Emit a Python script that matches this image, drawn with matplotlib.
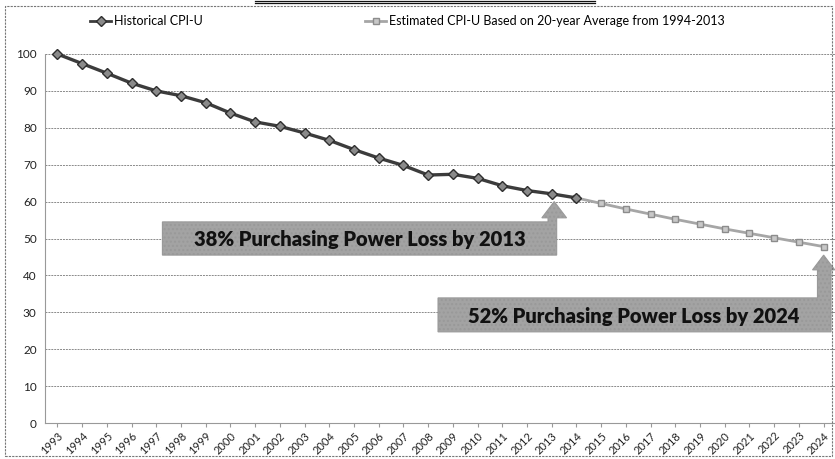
import matplotlib.pyplot as plt
from matplotlib.patches import Polygon, Rectangle
from matplotlib.lines import Line2D

plt.rcParams["font.family"] = ["Lato", "DejaVu Sans"]

years = [str(y) for y in range(1993, 2025)]
historical = [100.0, 97.4, 94.8, 92.1, 90.0, 88.7, 86.8, 84.0, 81.6, 80.4,
              78.6, 76.6, 74.1, 71.8, 69.8, 67.2, 67.4, 66.3, 64.3, 63.0,
              62.1, 61.0]
estimated = [61.0, 59.5, 58.0, 56.6, 55.2, 53.9, 52.6, 51.4, 50.2, 49.0, 47.8]
est_start = 21  # 2014

label_hist = "Historical CPI-U"
label_est = "Estimated CPI-U Based on 20-year Average from 1994-2013"
note_2013 = "38% Purchasing Power Loss by 2013"
note_2024 = "52% Purchasing Power Loss by 2024"

W, H = 835, 459
fig = plt.figure(figsize=(W / 100, H / 100), dpi=100)
ax = fig.add_axes([45 / W, (H - 423) / H, 791 / W, 369 / H])

x_hist = list(range(len(historical)))
x_est = list(range(est_start, est_start + len(estimated)))

ax.plot(x_est, estimated, color="#a6a6a6", lw=2, marker="s", ms=5,
        mfc="#c8c8c8", mec="#8c8c8c", clip_on=False, zorder=4)
ax.plot(x_hist, historical, color="#3c3c3c", lw=2.4, marker="D", ms=5.5,
        mfc="#8a8a8a", mec="#2e2e2e", clip_on=False, zorder=5)

ax.set_xlim(-0.5, len(years) - 0.5)
ax.set_ylim(0, 100)
ax.set_yticks(range(0, 101, 10))
ax.set_xticks(range(len(years)))
ax.set_xticklabels(years, rotation=45, ha="right", rotation_mode="anchor",
                   fontsize=8, color="#222")
ax.tick_params(axis="y", labelsize=8.5, length=0, pad=6, colors="#222")
ax.tick_params(axis="x", length=3, color="#999", pad=2)
ax.grid(axis="y", color="#8a8a8a", lw=0.7, ls=(0, (2, 1)))
ax.set_axisbelow(True)
for s in ["top", "right"]:
    ax.spines[s].set_visible(False)
ax.spines["left"].set_color("#999")
ax.spines["bottom"].set_color("#999")
ax.spines["left"].set_linestyle((0, (2, 1)))

box_kw = dict(facecolor="#a3a3a3", edgecolor="#999999", lw=0.8,
              hatch="....", zorder=6)

# callout for 2013
ax.add_patch(Polygon([(4.25, 45.5), (20.2, 45.5), (20.2, 55.6), (20.6, 55.6),
                      (20.1, 60.0), (19.6, 55.6), (19.85, 55.6), (19.85, 54.5),
                      (4.25, 54.5)], closed=True, clip_on=False, **box_kw))
ax.text(12.25, 49.6, note_2013, ha="center", va="center", fontsize=14.5,
        fontweight="heavy", color="#111", zorder=7)

# callout for 2024
ax.add_patch(Polygon([(15.4, 24.7), (31.3, 24.7), (31.3, 41.5), (31.45, 41.5),
                      (31.0, 45.5), (30.55, 41.5), (30.75, 41.5), (30.75, 33.9),
                      (15.4, 33.9)], closed=True, clip_on=False, **box_kw))
ax.text(23.3, 28.9, note_2024, ha="center", va="center", fontsize=14.5,
        fontweight="heavy", color="#111", zorder=7)

# legend
h1 = Line2D([], [], color="#3c3c3c", lw=2, marker="D", ms=5,
            mfc="#8a8a8a", mec="#2e2e2e")
h2 = Line2D([], [], color="#a6a6a6", lw=2, marker="s", ms=5,
            mfc="#c8c8c8", mec="#8c8c8c")
fig.legend([h1, h2], [label_hist, label_est], ncol=2, frameon=False,
           loc="upper left", bbox_to_anchor=(85 / W, 1 - 10 / H),
           fontsize=9, handlelength=1.7, handletextpad=0.2,
           columnspacing=13.0, borderaxespad=0)

# chart border and the underline of the cropped heading
fig.add_artist(Rectangle((5 / W, 3 / H), 827 / W, (H - 9) / H,
                         transform=fig.transFigure, fill=False,
                         ec="#777", lw=0.8, ls=(0, (2, 1))))
for yy in (1, 3):
    fig.add_artist(Line2D([255 / W, 595 / W], [1 - yy / H, 1 - yy / H],
                          transform=fig.transFigure, color="#111", lw=0.9))

fig.savefig("out.png", dpi=100)
